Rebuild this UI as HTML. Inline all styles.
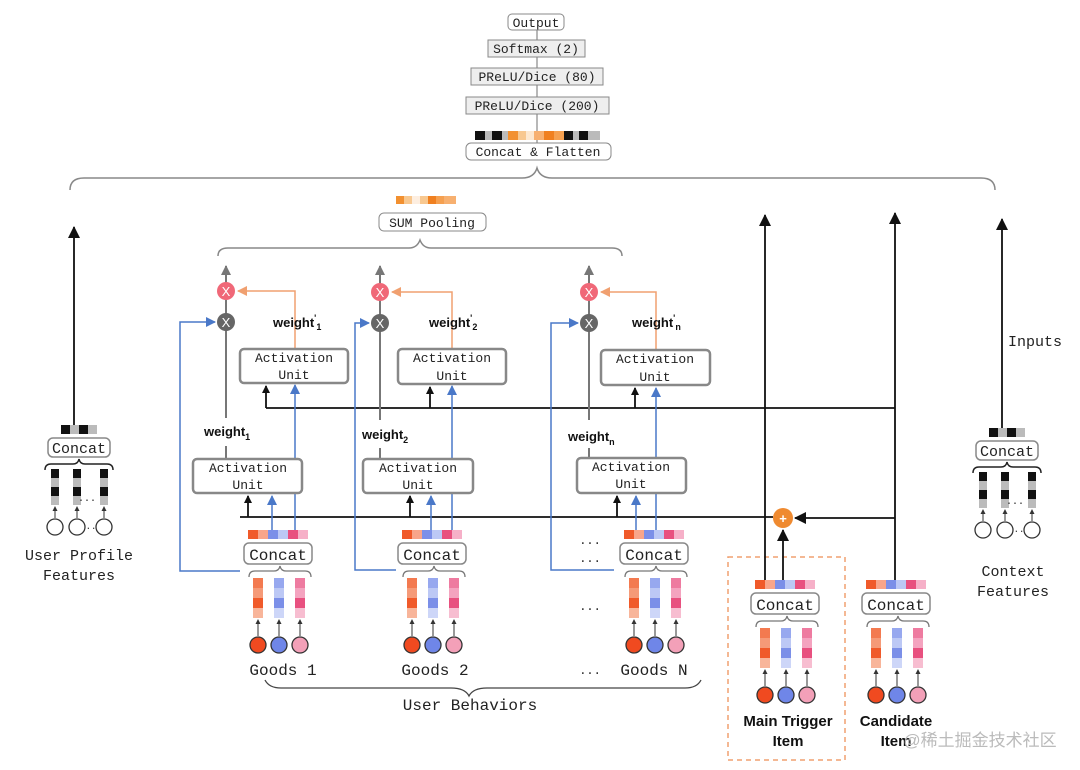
<!DOCTYPE html>
<html><head><meta charset="utf-8"><style>
html,body{margin:0;padding:0;background:#fff;}
svg{display:block;}
.m{font-family:"Liberation Mono",monospace;fill:#222;}
.b{font-family:"Liberation Sans",sans-serif;font-weight:bold;fill:#111;}
</style></head><body>
<svg width="1080" height="770" viewBox="0 0 1080 770" xmlns="http://www.w3.org/2000/svg">
<defs>
<marker id="ak" markerWidth="8" markerHeight="8" refX="7" refY="4" orient="auto" markerUnits="userSpaceOnUse"><path d="M0,0 L8,4 L0,8 z" fill="#111"/></marker>
<marker id="ag" markerWidth="10" markerHeight="10" refX="9" refY="5" orient="auto" markerUnits="userSpaceOnUse"><path d="M0,0 L10,5 L0,10 z" fill="#777"/></marker>
<marker id="ab" markerWidth="10" markerHeight="10" refX="9" refY="5" orient="auto" markerUnits="userSpaceOnUse"><path d="M0,0 L10,5 L0,10 z" fill="#4a78c8"/></marker>
<marker id="ao" markerWidth="10" markerHeight="10" refX="9" refY="5" orient="auto" markerUnits="userSpaceOnUse"><path d="M0,0 L10,5 L0,10 z" fill="#f0a070"/></marker>
<marker id="a2" markerWidth="12" markerHeight="12" refX="11" refY="6" orient="auto" markerUnits="userSpaceOnUse"><path d="M0,0 L12,6 L0,12 z" fill="#111"/></marker>
<marker id="as" markerWidth="5" markerHeight="5" refX="4" refY="2.5" orient="auto" markerUnits="userSpaceOnUse"><path d="M0,0 L5,2.5 L0,5 z" fill="#333"/></marker>

<g id="goods">
 <rect x="-31" y="0" width="10" height="9" fill="#f05a2a"/><rect x="-21" y="0" width="10" height="9" fill="#f8a58a"/>
 <rect x="-11" y="0" width="10" height="9" fill="#7b8fe8"/><rect x="-1" y="0" width="10" height="9" fill="#bcc8f5"/>
 <rect x="9" y="0" width="10" height="9" fill="#e8507f"/><rect x="19" y="0" width="10" height="9" fill="#f6b0c8"/>
 <rect x="-35" y="13" width="68" height="21" rx="5" fill="#fff" stroke="#888" stroke-width="1.5"/>
 <text x="-1" y="30" font-size="16" text-anchor="middle" class="m">Concat</text>
 <path d="M-30,47 q0,-6 6,-6 h19 q5,0 6,-5 q1,5 6,5 h19 q6,0 6,6" fill="none" stroke="#777" stroke-width="1.3"/>
 <rect x="-26" y="48" width="10" height="10" fill="#f37a50"/><rect x="-26" y="58" width="10" height="10" fill="#f59a78"/><rect x="-26" y="68" width="10" height="10" fill="#f05a2a"/><rect x="-26" y="78" width="10" height="10" fill="#f8b59a"/>
 <rect x="-5" y="48" width="10" height="10" fill="#97a8ef"/><rect x="-5" y="58" width="10" height="10" fill="#bcc8f5"/><rect x="-5" y="68" width="10" height="10" fill="#7b8fe8"/><rect x="-5" y="78" width="10" height="10" fill="#cdd6f8"/>
 <rect x="16" y="48" width="10" height="10" fill="#ee7ba0"/><rect x="16" y="58" width="10" height="10" fill="#f4a3bf"/><rect x="16" y="68" width="10" height="10" fill="#e8507f"/><rect x="16" y="78" width="10" height="10" fill="#f7bdd0"/>
 <g stroke="#333" stroke-width="1" marker-end="url(#as)"><line x1="-21" y1="106" x2="-21" y2="90"/><line x1="0" y1="106" x2="0" y2="90"/><line x1="21" y1="106" x2="21" y2="90"/></g>
 <circle cx="-21" cy="115" r="8" fill="#f04a20" stroke="#333" stroke-width="1.3"/>
 <circle cx="0" cy="115" r="8" fill="#6f86e8" stroke="#333" stroke-width="1.3"/>
 <circle cx="21" cy="115" r="8" fill="#f3a0b8" stroke="#333" stroke-width="1.3"/>
</g>

<g id="prof">
 <rect x="-18" y="0" width="9" height="9" fill="#111"/><rect x="-9" y="0" width="9" height="9" fill="#bbb"/><rect x="0" y="0" width="9" height="9" fill="#111"/><rect x="9" y="0" width="9" height="9" fill="#bbb"/>
 <rect x="-31" y="13" width="62" height="19" rx="5" fill="#fff" stroke="#888" stroke-width="1.5"/>
 <text x="0" y="28" font-size="15" text-anchor="middle" class="m">Concat</text>
 <path d="M-34,45 q0,-6 6,-6 h22 q5,0 6,-5 q1,5 6,5 h22 q6,0 6,6" fill="none" stroke="#222" stroke-width="1.5"/>
 <g>
 <rect x="-28" y="44" width="8" height="9" fill="#111"/><rect x="-28" y="53" width="8" height="9" fill="#bbb"/><rect x="-28" y="62" width="8" height="9" fill="#111"/><rect x="-28" y="71" width="8" height="9" fill="#bbb"/>
 <rect x="-6" y="44" width="8" height="9" fill="#111"/><rect x="-6" y="53" width="8" height="9" fill="#bbb"/><rect x="-6" y="62" width="8" height="9" fill="#111"/><rect x="-6" y="71" width="8" height="9" fill="#bbb"/>
 <rect x="21" y="44" width="8" height="9" fill="#111"/><rect x="21" y="53" width="8" height="9" fill="#bbb"/><rect x="21" y="62" width="8" height="9" fill="#111"/><rect x="21" y="71" width="8" height="9" fill="#bbb"/>
 </g>
 <text x="8" y="76" font-size="10" text-anchor="middle" class="m">...</text>
 <g stroke="#333" stroke-width="1" marker-end="url(#as)"><line x1="-24" y1="93" x2="-24" y2="82"/><line x1="-2" y1="93" x2="-2" y2="82"/><line x1="25" y1="93" x2="25" y2="82"/></g>
 <circle cx="-24" cy="102" r="8" fill="#fff" stroke="#333" stroke-width="1.3"/>
 <circle cx="-2" cy="102" r="8" fill="#fff" stroke="#333" stroke-width="1.3"/>
 <circle cx="25" cy="102" r="8" fill="#fff" stroke="#333" stroke-width="1.3"/>
 <text x="12" y="104" font-size="9" text-anchor="middle" class="m">..</text>
</g>
</defs>

<!-- top stack -->
<line x1="537" y1="29" x2="537" y2="143" stroke="#888" stroke-width="1.2"/>
<rect x="508" y="14" width="56" height="16" rx="4" fill="#fff" stroke="#888"/>
<text x="536" y="27" font-size="13" text-anchor="middle" class="m">Output</text>
<rect x="488" y="40" width="97" height="17" fill="#eee" stroke="#888"/>
<text x="536" y="53" font-size="13" text-anchor="middle" class="m">Softmax (2)</text>
<rect x="471" y="68" width="132" height="17" fill="#eee" stroke="#888"/>
<text x="537" y="81" font-size="13" text-anchor="middle" class="m">PReLU/Dice (80)</text>
<rect x="466" y="97" width="143" height="17" fill="#eee" stroke="#888"/>
<text x="537" y="110" font-size="13" text-anchor="middle" class="m">PReLU/Dice (200)</text>
<g>
<rect x="475" y="131" width="10" height="9" fill="#111"/><rect x="485" y="131" width="7" height="9" fill="#bbb"/><rect x="492" y="131" width="10" height="9" fill="#111"/><rect x="502" y="131" width="6" height="9" fill="#bbb"/>
<rect x="508" y="131" width="10" height="9" fill="#f29030"/><rect x="518" y="131" width="8" height="9" fill="#f8c890"/><rect x="526" y="131" width="8" height="9" fill="#fde8d0"/>
<rect x="534" y="131" width="10" height="9" fill="#f7b070"/><rect x="544" y="131" width="10" height="9" fill="#f08020"/><rect x="554" y="131" width="10" height="9" fill="#f5a050"/>
<rect x="564" y="131" width="9" height="9" fill="#111"/><rect x="573" y="131" width="6" height="9" fill="#bbb"/><rect x="579" y="131" width="9" height="9" fill="#111"/><rect x="588" y="131" width="12" height="9" fill="#bbb"/>
</g>
<rect x="466" y="143" width="145" height="17" rx="5" fill="#fff" stroke="#888"/>
<text x="538" y="156" font-size="13" text-anchor="middle" class="m">Concat &amp; Flatten</text>
<path d="M70,190 q0,-12 14,-12 h438 q12,0 15,-10 q3,10 15,10 h429 q14,0 14,12" fill="none" stroke="#888" stroke-width="1.5"/>

<!-- SUM pooling -->
<g>
<rect x="396" y="196" width="8" height="8" fill="#f29030"/><rect x="404" y="196" width="8" height="8" fill="#f8c890"/><rect x="412" y="196" width="8" height="8" fill="#fdeee0"/><rect x="420" y="196" width="8" height="8" fill="#f8c890"/><rect x="428" y="196" width="8" height="8" fill="#f08020"/><rect x="436" y="196" width="8" height="8" fill="#f5a050"/><rect x="444" y="196" width="12" height="8" fill="#f7b070"/>
</g>
<rect x="379" y="213" width="107" height="18" rx="5" fill="#fff" stroke="#888"/>
<text x="432" y="227" font-size="13" text-anchor="middle" class="m">SUM Pooling</text>
<path d="M218,256 q0,-8 10,-8 h181 q8,0 11,-8 q3,8 11,8 h181 q10,0 10,8" fill="none" stroke="#888" stroke-width="1.5"/>

<!-- long black lines -->
<line x1="266" y1="408" x2="895" y2="408" stroke="#111" stroke-width="1.8"/>
<line x1="240" y1="517" x2="773" y2="517" stroke="#111" stroke-width="1.8"/>
<g stroke="#111" stroke-width="1.8" marker-end="url(#ak)">
<line x1="266" y1="408" x2="266" y2="386"/><line x1="430" y1="408" x2="430" y2="387"/><line x1="635" y1="408" x2="635" y2="388"/>
<line x1="248" y1="517" x2="248" y2="496"/><line x1="410" y1="517" x2="410" y2="496"/><line x1="617" y1="517" x2="617" y2="496"/>
</g>

<!-- columns -->
<g id="c1">
<line x1="226" y1="458" x2="226" y2="446" stroke="#777" stroke-width="2"/>
<line x1="226" y1="418" x2="226" y2="266" stroke="#777" stroke-width="2" marker-end="url(#ag)"/>
<polyline points="295,348 295,291 238,291" fill="none" stroke="#f0a070" stroke-width="1.5" marker-end="url(#ao)"/>
<circle cx="226" cy="291" r="9" fill="#f06878"/><text x="226" y="296" font-size="13" fill="#fff" text-anchor="middle" font-family="Liberation Sans">X</text>
<circle cx="226" cy="322" r="9" fill="#666"/><text x="226" y="327" font-size="13" fill="#fff" text-anchor="middle" font-family="Liberation Sans">X</text>
<polyline points="240,571 180,571 180,322 215,322" fill="none" stroke="#4a78c8" stroke-width="1.5" marker-end="url(#ab)"/>
<line x1="295" y1="530" x2="295" y2="385" stroke="#4a78c8" stroke-width="1.5" marker-end="url(#ab)"/>
<line x1="272" y1="530" x2="272" y2="496" stroke="#4a78c8" stroke-width="1.5" marker-end="url(#ab)"/>
<rect x="240" y="349" width="108" height="34" rx="4" fill="#fff" stroke="#888" stroke-width="2.5"/>
<text x="294" y="362" font-size="13" text-anchor="middle" class="m">Activation</text><text x="294" y="379" font-size="13" text-anchor="middle" class="m">Unit</text>
<rect x="193" y="459" width="109" height="34" rx="4" fill="#fff" stroke="#888" stroke-width="2.5"/>
<text x="248" y="472" font-size="13" text-anchor="middle" class="m">Activation</text><text x="248" y="489" font-size="13" text-anchor="middle" class="m">Unit</text>
<text x="273" y="327" font-size="13" class="b">weight<tspan font-size="9" dy="-6">'</tspan><tspan font-size="9" dy="9">1</tspan></text>
<text x="204" y="436" font-size="13" class="b">weight<tspan font-size="9" dy="4">1</tspan></text>
</g>
<g id="c2">
<line x1="380" y1="458" x2="380" y2="448" stroke="#777" stroke-width="2"/>
<line x1="380" y1="420" x2="380" y2="266" stroke="#777" stroke-width="2" marker-end="url(#ag)"/>
<polyline points="452,348 452,292 392,292" fill="none" stroke="#f0a070" stroke-width="1.5" marker-end="url(#ao)"/>
<circle cx="380" cy="292" r="9" fill="#f06878"/><text x="380" y="297" font-size="13" fill="#fff" text-anchor="middle" font-family="Liberation Sans">X</text>
<circle cx="380" cy="323" r="9" fill="#666"/><text x="380" y="328" font-size="13" fill="#fff" text-anchor="middle" font-family="Liberation Sans">X</text>
<polyline points="396,570 355,570 355,323 369,323" fill="none" stroke="#4a78c8" stroke-width="1.5" marker-end="url(#ab)"/>
<line x1="452" y1="530" x2="452" y2="386" stroke="#4a78c8" stroke-width="1.5" marker-end="url(#ab)"/>
<line x1="431" y1="530" x2="431" y2="496" stroke="#4a78c8" stroke-width="1.5" marker-end="url(#ab)"/>
<rect x="398" y="349" width="108" height="35" rx="4" fill="#fff" stroke="#888" stroke-width="2.5"/>
<text x="452" y="362" font-size="13" text-anchor="middle" class="m">Activation</text><text x="452" y="380" font-size="13" text-anchor="middle" class="m">Unit</text>
<rect x="363" y="459" width="110" height="34" rx="4" fill="#fff" stroke="#888" stroke-width="2.5"/>
<text x="418" y="472" font-size="13" text-anchor="middle" class="m">Activation</text><text x="418" y="489" font-size="13" text-anchor="middle" class="m">Unit</text>
<text x="429" y="327" font-size="13" class="b">weight<tspan font-size="9" dy="-6">'</tspan><tspan font-size="9" dy="9">2</tspan></text>
<text x="362" y="439" font-size="13" class="b">weight<tspan font-size="9" dy="4">2</tspan></text>
</g>
<g id="c3">
<line x1="589" y1="458" x2="589" y2="448" stroke="#777" stroke-width="2"/>
<line x1="589" y1="420" x2="589" y2="266" stroke="#777" stroke-width="2" marker-end="url(#ag)"/>
<polyline points="656,350 656,292 601,292" fill="none" stroke="#f0a070" stroke-width="1.5" marker-end="url(#ao)"/>
<circle cx="589" cy="292" r="9" fill="#f06878"/><text x="589" y="297" font-size="13" fill="#fff" text-anchor="middle" font-family="Liberation Sans">X</text>
<circle cx="589" cy="323" r="9" fill="#666"/><text x="589" y="328" font-size="13" fill="#fff" text-anchor="middle" font-family="Liberation Sans">X</text>
<polyline points="614,570 551,570 551,323 578,323" fill="none" stroke="#4a78c8" stroke-width="1.5" marker-end="url(#ab)"/>
<line x1="656" y1="530" x2="656" y2="388" stroke="#4a78c8" stroke-width="1.5" marker-end="url(#ab)"/>
<line x1="636" y1="530" x2="636" y2="496" stroke="#4a78c8" stroke-width="1.5" marker-end="url(#ab)"/>
<rect x="601" y="350" width="109" height="35" rx="4" fill="#fff" stroke="#888" stroke-width="2.5"/>
<text x="655" y="363" font-size="13" text-anchor="middle" class="m">Activation</text><text x="655" y="381" font-size="13" text-anchor="middle" class="m">Unit</text>
<rect x="577" y="458" width="109" height="35" rx="4" fill="#fff" stroke="#888" stroke-width="2.5"/>
<text x="631" y="471" font-size="13" text-anchor="middle" class="m">Activation</text><text x="631" y="488" font-size="13" text-anchor="middle" class="m">Unit</text>
<text x="632" y="327" font-size="13" class="b">weight<tspan font-size="9" dy="-6">'</tspan><tspan font-size="9" dy="9">n</tspan></text>
<text x="568" y="441" font-size="13" class="b">weight<tspan font-size="9" dy="4">n</tspan></text>
</g>

<!-- goods -->
<use href="#goods" x="279" y="530"/>
<use href="#goods" x="433" y="530"/>
<use href="#goods" x="655" y="530"/>
<text x="590" y="544" font-size="12" class="m" text-anchor="middle">...</text>
<text x="590" y="562" font-size="12" class="m" text-anchor="middle">...</text>
<text x="590" y="610" font-size="12" class="m" text-anchor="middle">...</text>
<text x="590" y="674" font-size="12" class="m" text-anchor="middle">...</text>
<text x="283" y="675" font-size="16" class="m" text-anchor="middle">Goods 1</text>
<text x="435" y="675" font-size="16" class="m" text-anchor="middle">Goods 2</text>
<text x="654" y="675" font-size="16" class="m" text-anchor="middle">Goods N</text>
<path d="M265,680 q4,8 16,8 h170 q14,0 18,8 q4,-8 18,-8 h198 q12,0 16,-8" fill="none" stroke="#444" stroke-width="1.3"/>
<text x="470" y="710" font-size="16" class="m" text-anchor="middle">User Behaviors</text>

<!-- main trigger & candidate -->
<rect x="728" y="557" width="117" height="203" fill="none" stroke="#f0a070" stroke-width="1.5" stroke-dasharray="5,4"/>
<use href="#goods" x="786" y="580"/>
<use href="#goods" x="897" y="580"/>
<line x1="765" y1="580" x2="765" y2="215" stroke="#111" stroke-width="1.8" marker-end="url(#a2)"/>
<line x1="895" y1="580" x2="895" y2="213" stroke="#111" stroke-width="1.8" marker-end="url(#a2)"/>
<line x1="783" y1="580" x2="783" y2="530" stroke="#111" stroke-width="1.8" marker-end="url(#a2)"/>
<line x1="895" y1="518" x2="795" y2="518" stroke="#111" stroke-width="1.8" marker-end="url(#a2)"/>
<circle cx="783" cy="518" r="10" fill="#ef8a30"/><text x="783" y="523" font-size="13" fill="#fff" text-anchor="middle" font-family="Liberation Sans" font-weight="bold">+</text>
<text x="788" y="726" font-size="15" class="b" text-anchor="middle">Main Trigger</text>
<text x="788" y="746" font-size="15" class="b" text-anchor="middle">Item</text>
<text x="896" y="726" font-size="15" class="b" text-anchor="middle">Candidate</text>
<text x="896" y="746" font-size="15" class="b" text-anchor="middle">Item</text>
<text x="980" y="746" font-size="17" fill="#bbb" text-anchor="middle" font-family="'Liberation Sans','Noto Sans CJK SC',sans-serif">@稀土掘金技术社区</text>

<!-- profile & context -->
<line x1="74" y1="425" x2="74" y2="227" stroke="#111" stroke-width="1.8" marker-end="url(#a2)"/>
<use href="#prof" x="79" y="425"/>
<text x="79" y="560" font-size="15" class="m" text-anchor="middle">User Profile</text>
<text x="79" y="580" font-size="15" class="m" text-anchor="middle">Features</text>
<line x1="1002" y1="428" x2="1002" y2="219" stroke="#111" stroke-width="1.8" marker-end="url(#a2)"/>
<text x="1035" y="346" font-size="15" class="m" text-anchor="middle">Inputs</text>
<use href="#prof" x="1007" y="428"/>
<text x="1013" y="576" font-size="15" class="m" text-anchor="middle">Context</text>
<text x="1013" y="596" font-size="15" class="m" text-anchor="middle">Features</text>
</svg>
</body></html>
